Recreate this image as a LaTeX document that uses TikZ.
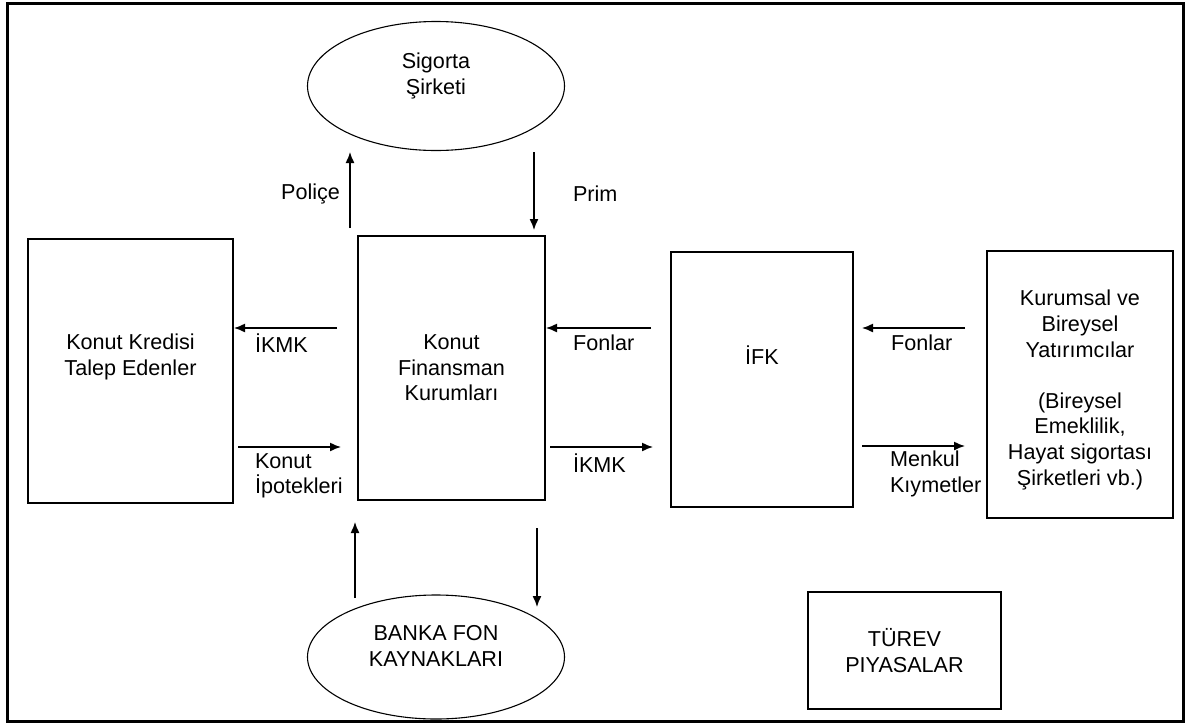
\documentclass[tikz,border=0pt]{standalone}
\usepackage{fontspec}
\setmainfont{Liberation Sans}
\usetikzlibrary{shapes.geometric, arrows.meta}

\begin{document}
\begin{tikzpicture}[x=0.5pt, y=-0.5pt,
    every node/.style={font=\fontsize{10.8}{12.8}\selectfont, align=center},
    kutu/.style={draw, line width=1pt, inner sep=0pt},
    elips/.style={draw, ellipse, line width=0.55pt, inner sep=0pt},
    ok/.style={line width=0.7pt, -{Latex[length=5.5pt, width=4.5pt]}}]
            \useasboundingbox (0, 0) rectangle (1195, 724);
            \draw [line width=1.5pt] (7, 3) rectangle (1183, 721);

            \node [elips, minimum width=128.5pt, minimum height=64.5pt] (sirket) at (436, 86) {};
            \node (sirketyazi) at (436, 76) {Sigorta\\Şirketi};
            \node [kutu, minimum width=102.5pt, minimum height=132pt] (kredi) at (130.5, 371) {};
            \node (krediyazi) at (130.5, 357) {Konut Kredisi\\Talep Edenler};
            \node [kutu, minimum width=93.5pt, minimum height=132pt] (kfk) at (451.5, 368) {Konut\\Finansman\\Kurumları};
            \node [kutu, minimum width=91pt, minimum height=127.5pt] (ifk) at (762, 379.5) {};
            \node (ifkyazi) at (762, 355) {İFK};
            \node [kutu, minimum width=93pt, minimum height=133.5pt] (yatirimci) at (1080, 384.5) {};
            \node (yatirimciyazi) at (1080, 390) {Kurumsal ve\\Bireysel\\Yatırımcılar\\[12.8pt](Bireysel\\Emeklilik,\\Hayat sigortası\\Şirketleri vb.)};
            \node [kutu, minimum width=96.5pt, minimum height=58.5pt] (turev) at (904.5, 650.5) {TÜREV\\PIYASALAR};
            \node [elips, minimum width=128.5pt, minimum height=62pt] (banka) at (436, 657) {};
            \node (bankayazi) at (436, 646) {BANKA FON\\KAYNAKLARI};

            \coordinate (police1) at (350, 228);
            \coordinate (police2) at (350, 152);
            \coordinate (prim1) at (534, 152);
            \coordinate (prim2) at (534, 230);
            \coordinate (ikmk1) at (337, 328);
            \coordinate (fon1) at (651, 328);
            \coordinate (fon2) at (965, 328);
            \coordinate (fon3) at (862, 328);
            \coordinate (ipotek1) at (238, 447);
            \coordinate (ipotek2) at (341, 447);
            \coordinate (ikmk2) at (550, 447);
            \coordinate (ikmk3) at (653, 447);
            \coordinate (menkul1) at (862, 446);
            \coordinate (menkul2) at (965, 446);
            \coordinate (banka1) at (355, 598);
            \coordinate (banka2) at (355, 522);
            \coordinate (banka3) at (537, 528);
            \coordinate (banka4) at (537, 607);

            \draw [ok] (police1) -- (police2);
            \draw [ok] (prim1) -- (prim2);
            \draw [ok] (ikmk1) -- (kredi.east |- ikmk1);
            \draw [ok] (fon1) -- (kfk.east |- fon1);
            \draw [ok] (fon2) -- (fon3);
            \draw [ok] (ipotek1) -- (ipotek2);
            \draw [ok] (ikmk2) -- (ikmk3);
            \draw [ok] (menkul1) -- (menkul2);
            \draw [ok] (banka1) -- (banka2);
            \draw [ok] (banka3) -- (banka4);

            \node [anchor=east] (policeyazi) at (347, 194) {Poliçe};
            \node [anchor=west] (primyazi) at (566, 194) {Prim};
            \node [anchor=west] (ikmkyazi1) at (248, 343) {İKMK};
            \node [anchor=west] (fonyazi1) at (566, 343) {Fonlar};
            \node [anchor=west] (fonyazi2) at (884, 343) {Fonlar};
            \node [anchor=west, align=left] (ipotekyazi) at (248, 476) {Konut\\İpotekleri};
            \node [anchor=west] (ikmkyazi2) at (566, 463) {İKMK};
            \node [anchor=west, align=left] (menkulyazi) at (883, 474) {Menkul\\Kıymetler};
\end{tikzpicture}
\end{document}
